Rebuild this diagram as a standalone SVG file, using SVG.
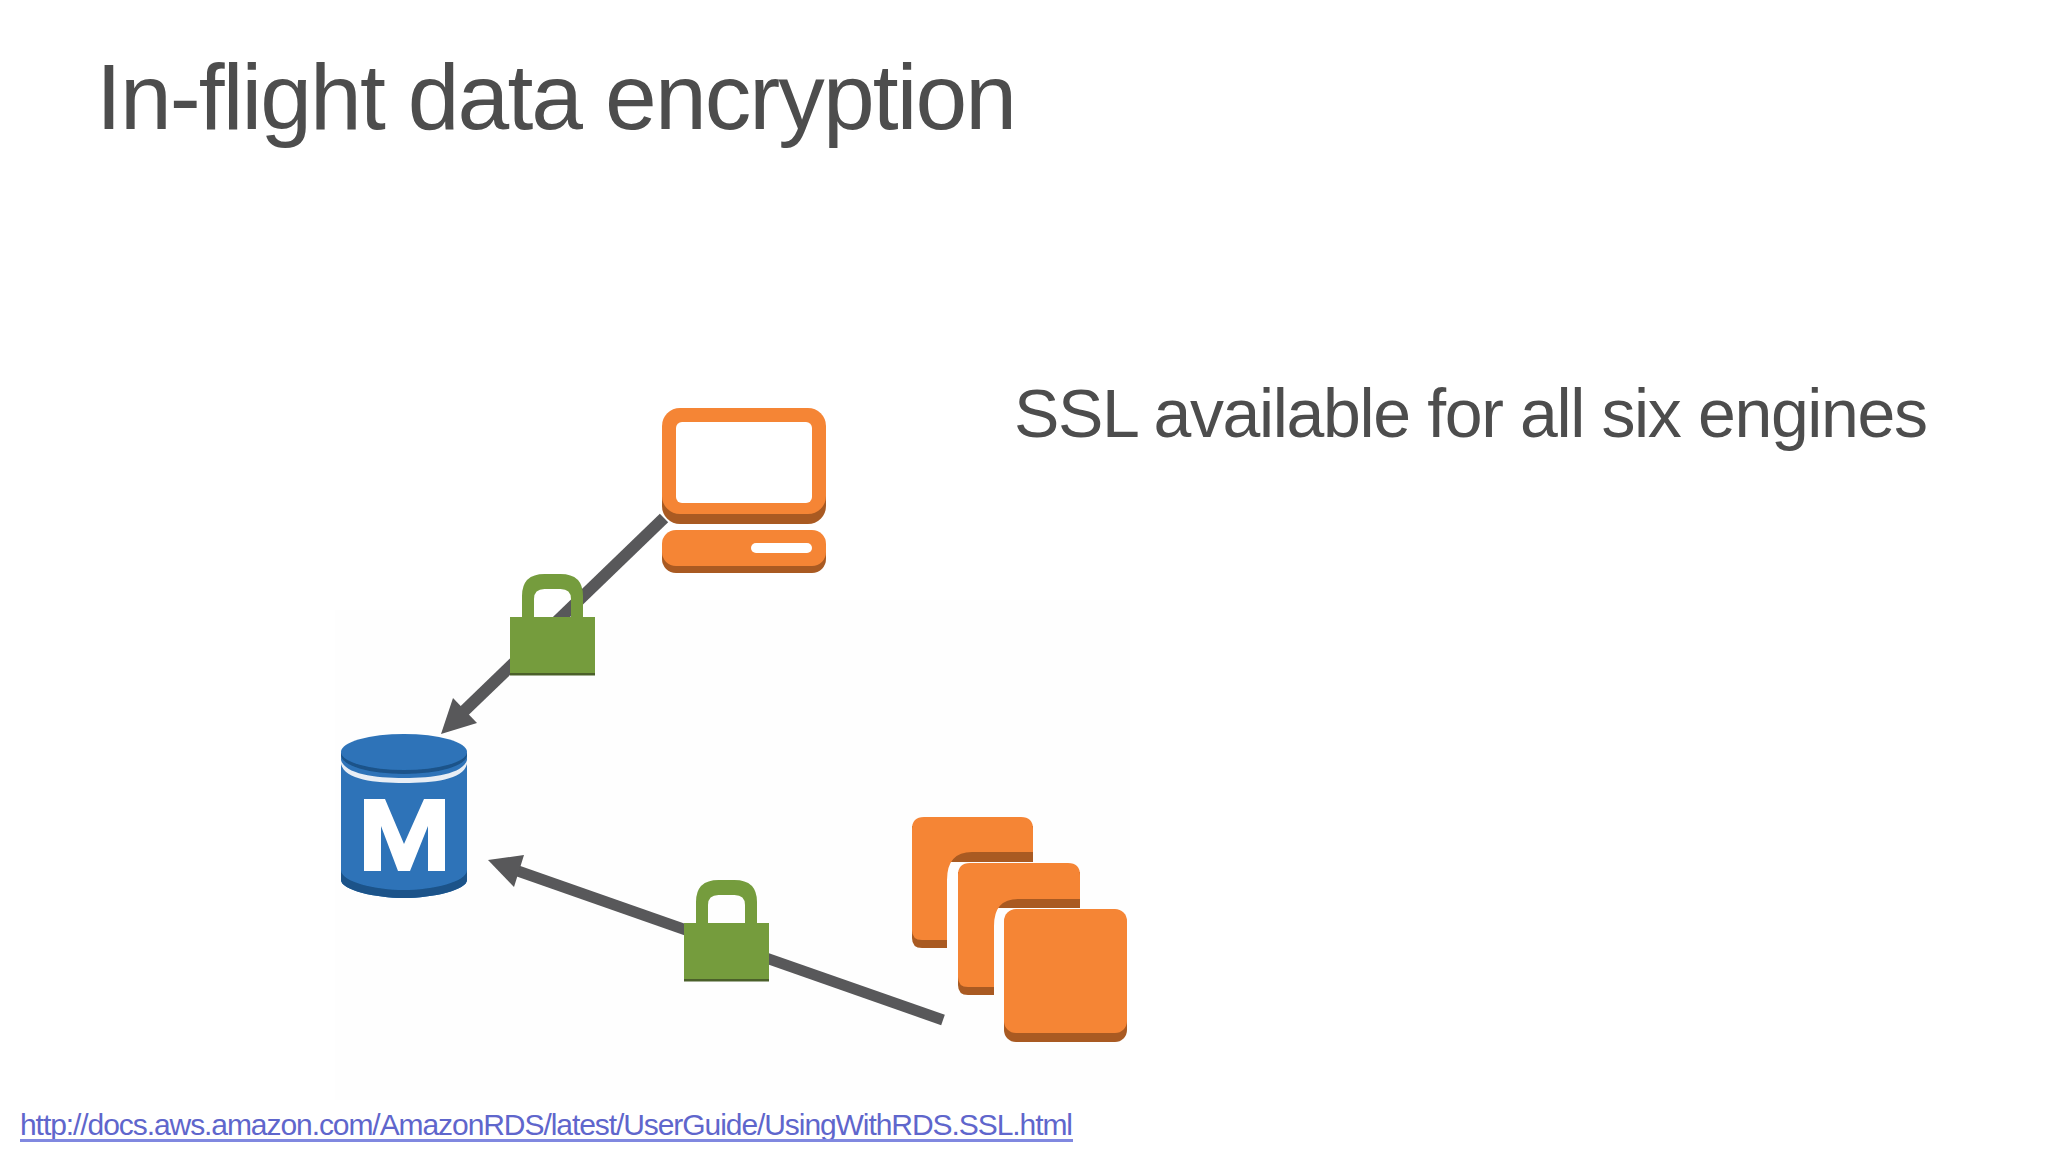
<svg xmlns="http://www.w3.org/2000/svg" width="2048" height="1152" viewBox="0 0 2048 1152">
<defs>
<style>
text{font-family:"Liberation Sans",Arial,sans-serif;fill:#4d4d4d}
.org{fill:#f58536}.orgd{fill:#a95a21}.grn{fill:#759c3e}.grnd{fill:#4b612c}
.blu{fill:#2e73b8}.blud{fill:#1a5389}
.con{stroke:#58585a;fill:none}.head{fill:#58585a}
.soft{filter:url(#soft)}
</style>
<filter id="soft" x="-5%" y="-5%" width="110%" height="110%"><feGaussianBlur stdDeviation="0.7"/></filter>
<g id="lockShape">
<path class="grn" d="M-30.500 45V22Q-30.500 0 -8 0H8Q30.500 0 30.500 22V45H18.500V25Q18.500 15 8 15H-8Q-18.500 15 -18.500 25V45Z"/>
<rect class="grn" x="-42.500" y="43" width="85" height="56"/>
<rect class="grnd" x="-42.500" y="99" width="85" height="2.500"/>
</g>
</defs>
<rect width="2048" height="1152" fill="#fff"/>
<path d="M335 1100V610H680V600H1130V1100Z" fill="#fefefe"/>
<g id="title"><text x="96" y="129" font-size="93" textLength="921" lengthAdjust="spacing">In-flight data encryption</text></g>
<g id="subtitle"><text x="1014" y="437" font-size="68" textLength="914" lengthAdjust="spacing">SSL available for all six engines</text></g>
<g id="connectors" class="soft">
<line class="con" stroke-width="12" x1="664" y1="518" x2="461" y2="714"/>
<path class="head" d="M441 734L453 698L477 723Z"/>
<line class="con" stroke-width="11" x1="943" y1="1020" x2="515" y2="870"/>
<path class="head" d="M488 860L524 855L514 887Z"/>
</g>
<g id="client" class="soft">
<rect class="orgd" x="662" y="414" width="164" height="110" rx="18"/>
<rect class="org" x="662" y="408" width="164" height="106" rx="18"/>
<rect x="676" y="422" width="136" height="81" rx="6" fill="#fff"/>
<rect class="orgd" x="662" y="536" width="164" height="37" rx="14"/>
<rect class="org" x="662" y="530" width="164" height="36" rx="14"/>
<rect x="751" y="543" width="61" height="10" rx="5" fill="#fff"/>
</g>
<g id="lock1" class="soft"><use href="#lockShape" x="552.500" y="574"/></g>
<g id="rds-master" class="soft">
<path class="blu" d="M341 753V880C341 890 375 898 404 898C433 898 467 890 467 880V753Z"/>
<path class="blud" d="M341 870V880C341 890 375 898 404 898C433 898 467 890 467 880V870C467 882 433 890 404 890C375 890 341 882 341 870Z"/>
<path d="M341 760C345 774 375 778 404 778C433 778 463 774 467 760V764C463 780 433 783 404 783C375 783 345 780 341 764Z" fill="#e8eef5"/>
<ellipse class="blud" cx="404" cy="755" rx="63" ry="19"/>
<ellipse class="blu" cx="404" cy="752" rx="63" ry="18"/>
<path d="M364 799H385L404 844L424 799H445V871H428V826L410 871H398L381 826V871H364Z" fill="#fff"/>
</g>
<g id="lock2" class="soft"><use href="#lockShape" x="726.500" y="880"/></g>
<g id="instances" class="soft">
<path class="orgd" d="M912 826V938Q912 948 922 948H947V862H1033V826Z"/>
<path class="org" d="M924 817H1021Q1033 817 1033 829V852H972Q947 852 947 880V940H922Q912 940 912 930V829Q912 817 924 817Z"/>
<path class="orgd" d="M958 872V985Q958 995 968 995H994V908H1080V872Z"/>
<path class="org" d="M970 863H1068Q1080 863 1080 875V899H1018Q994 899 994 926V987H968Q958 987 958 977V875Q958 863 970 863Z"/>
<rect class="orgd" x="1004" y="916" width="123" height="126" rx="12"/>
<rect class="org" x="1004" y="909" width="123" height="124" rx="12"/>
</g>
<g id="link"><text x="20" y="1135" font-size="30" textLength="1053" lengthAdjust="spacing" style="fill:#5f66cc">http://docs.aws.amazon.com/AmazonRDS/latest/UserGuide/UsingWithRDS.SSL.html</text>
<rect x="20" y="1139" width="1053" height="3" fill="#8088e0"/></g>
</svg>
